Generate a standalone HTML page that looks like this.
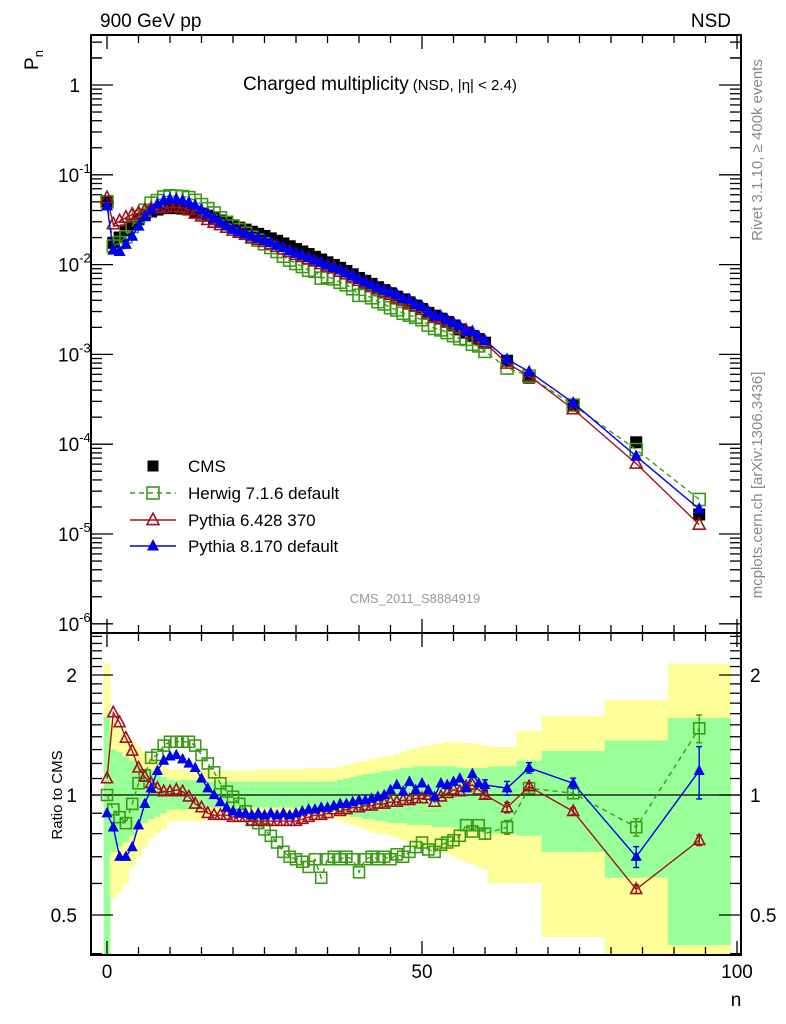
<!DOCTYPE html>
<html><head><meta charset="utf-8"><style>
body{margin:0;background:#fff;}
svg{display:block;font-family:"Liberation Sans",Arial,sans-serif;}
</style></head><body>
<svg id="chart" width="786" height="1024" viewBox="0 0 786 1024" xmlns="http://www.w3.org/2000/svg">
<g id="bands"></g>
<g id="grid"></g>
<g id="marks"></g>
<text x="100" y="27" font-size="19">900 GeV pp</text>
<text x="731" y="27" font-size="19" text-anchor="end">NSD</text>
<text x="243" y="90" font-size="19">Charged multiplicity<tspan font-size="15" dx="4">(NSD, |η| &lt; 2.4)</tspan></text>
<text transform="translate(38,60) rotate(-90)" font-size="19" text-anchor="middle">P<tspan font-size="13" dy="5">n</tspan></text>
<text transform="translate(62,795) rotate(-90)" font-size="15" text-anchor="middle">Ratio to CMS</text>
<text x="736" y="1006" font-size="19" text-anchor="middle">n</text>
<text transform="translate(762,150) rotate(-90)" font-size="15" fill="#888" text-anchor="middle">Rivet 3.1.10, ≥ 400k events</text>
<text transform="translate(762,485) rotate(-90)" font-size="15" fill="#888" text-anchor="middle">mcplots.cern.ch [arXiv:1306.3436]</text>
<text x="415" y="603" font-size="13" fill="#999" text-anchor="middle">CMS_2011_S8884919</text>
<g id="legend"></g>
</svg>
<script>
const nVals=[0,1,2,3,4,5,6,7,8,9,10,11,12,13,14,15,16,17,18,19,20,21,22,23,24,25,26,27,28,29,30,31,32,33,34,35,36,37,38,39,40,41,42,43,44,45,46,47,48,49,50,51,52,53,54,55,56,57,58,59,60,63.5,67,74,84,94];
const binLo=[-0.5,0.5,1.5,2.5,3.5,4.5,5.5,6.5,7.5,8.5,9.5,10.5,11.5,12.5,13.5,14.5,15.5,16.5,17.5,18.5,19.5,20.5,21.5,22.5,23.5,24.5,25.5,26.5,27.5,28.5,29.5,30.5,31.5,32.5,33.5,34.5,35.5,36.5,37.5,38.5,39.5,40.5,41.5,42.5,43.5,44.5,45.5,46.5,47.5,48.5,49.5,50.5,51.5,52.5,53.5,54.5,55.5,56.5,57.5,58.5,59.5,60.5,65,69,79,89];
const binHi=[0.5,1.5,2.5,3.5,4.5,5.5,6.5,7.5,8.5,9.5,10.5,11.5,12.5,13.5,14.5,15.5,16.5,17.5,18.5,19.5,20.5,21.5,22.5,23.5,24.5,25.5,26.5,27.5,28.5,29.5,30.5,31.5,32.5,33.5,34.5,35.5,36.5,37.5,38.5,39.5,40.5,41.5,42.5,43.5,44.5,45.5,46.5,47.5,48.5,49.5,50.5,51.5,52.5,53.5,54.5,55.5,56.5,57.5,58.5,59.5,60.5,65,69,79,89,99];
const cmsP=[0.050,0.0175,0.020,0.024,0.028,0.032,0.036,0.039,0.041,0.0425,0.043,0.0425,0.042,0.041,0.039,0.037,0.035,0.033,0.031,0.029,0.0272,0.0258,0.0245,0.0232,0.0220,0.0208,0.0196,0.0184,0.0172,0.0160,0.0149,0.0140,0.0131,0.0122,0.0114,0.0106,0.0099,0.0092,0.0085,0.0078,0.0071,0.0066,0.0061,0.0056,0.0052,0.0048,0.0044,0.0041,0.0038,0.0035,0.0032,0.0029,0.0027,0.0025,0.0023,0.0021,0.0019,0.00175,0.0016,0.00148,0.00135,0.00085,0.00055,0.00027,0.000105,0.0000165];
const herwigR=[1.0,0.92,0.88,0.85,0.95,1.07,1.12,1.24,1.26,1.33,1.36,1.36,1.36,1.36,1.33,1.26,1.2,1.14,1.07,1.02,0.99,0.95,0.91,0.87,0.85,0.82,0.79,0.76,0.72,0.70,0.69,0.68,0.66,0.69,0.62,0.69,0.70,0.69,0.70,0.69,0.64,0.69,0.70,0.69,0.70,0.69,0.71,0.70,0.72,0.74,0.76,0.73,0.72,0.75,0.76,0.77,0.79,0.84,0.81,0.84,0.80,0.83,1.04,1.01,0.83,1.47];
const pythia6R=[1.10,1.61,1.52,1.39,1.29,1.17,1.11,1.07,1.04,1.02,1.02,1.03,1.02,0.99,0.95,0.93,0.90,0.89,0.89,0.89,0.88,0.88,0.88,0.86,0.86,0.86,0.86,0.86,0.86,0.86,0.86,0.87,0.88,0.89,0.89,0.90,0.92,0.91,0.92,0.93,0.93,0.94,0.94,0.95,0.95,0.96,0.96,0.97,0.97,0.98,0.98,1.0,0.96,0.99,1.01,1.03,1.02,1.05,1.06,1.03,1.0,0.93,1.05,0.91,0.58,0.77];
const pythia8R=[0.90,0.83,0.70,0.70,0.74,0.84,0.95,1.04,1.15,1.22,1.25,1.26,1.23,1.20,1.17,1.10,1.04,1.0,0.96,0.93,0.91,0.90,0.90,0.89,0.90,0.89,0.90,0.89,0.90,0.89,0.90,0.91,0.92,0.92,0.93,0.93,0.94,0.95,0.95,0.96,0.97,0.97,0.98,0.99,1.0,1.03,1.06,1.02,1.08,1.03,1.07,1.03,0.99,1.07,1.06,1.08,1.10,1.04,1.13,1.07,1.06,1.04,1.17,1.07,0.70,1.15];
const herwigErrTail=[0.03,0.04,0.03,0.03,0.05,0.08];
const pythia6ErrTail=[0.02,0.03,0.02,0.02,0.025,0.03];
const pythia8ErrTail=[0.03,0.04,0.03,0.03,0.06,0.15];
const greenHi=[1.57,1.30,1.28,1.25,1.22,1.20,1.17,1.15,1.13,1.11,1.09,1.09,1.09,1.09,1.09,1.09,1.08,1.08,1.08,1.08,1.08,1.08,1.08,1.08,1.08,1.08,1.08,1.08,1.08,1.08,1.08,1.08,1.08,1.08,1.08,1.08,1.08,1.09,1.10,1.11,1.12,1.13,1.13,1.14,1.15,1.15,1.16,1.17,1.17,1.18,1.18,1.18,1.18,1.18,1.18,1.18,1.17,1.17,1.17,1.17,1.17,1.18,1.22,1.29,1.37,1.56];
const greenLo=[0.3,0.72,0.74,0.76,0.79,0.82,0.85,0.87,0.88,0.90,0.92,0.92,0.92,0.92,0.92,0.92,0.93,0.93,0.93,0.93,0.93,0.93,0.93,0.93,0.93,0.93,0.93,0.93,0.93,0.93,0.93,0.93,0.93,0.93,0.92,0.92,0.91,0.90,0.89,0.88,0.88,0.87,0.87,0.86,0.86,0.85,0.85,0.85,0.84,0.84,0.84,0.84,0.83,0.83,0.83,0.83,0.82,0.82,0.81,0.81,0.80,0.80,0.79,0.72,0.62,0.42];
const yellowHi=[2.14,1.55,1.48,1.42,1.37,1.32,1.28,1.25,1.22,1.20,1.16,1.16,1.16,1.16,1.16,1.16,1.15,1.15,1.15,1.15,1.15,1.15,1.15,1.15,1.16,1.16,1.16,1.16,1.16,1.16,1.16,1.16,1.17,1.17,1.17,1.17,1.17,1.18,1.19,1.20,1.21,1.22,1.23,1.24,1.25,1.25,1.27,1.28,1.30,1.31,1.32,1.33,1.34,1.35,1.36,1.36,1.36,1.35,1.35,1.34,1.33,1.32,1.45,1.58,1.73,2.13];
const yellowLo=[0.3,0.55,0.57,0.60,0.66,0.70,0.74,0.78,0.80,0.82,0.86,0.86,0.86,0.86,0.86,0.86,0.88,0.88,0.88,0.88,0.88,0.88,0.88,0.88,0.88,0.88,0.88,0.88,0.88,0.88,0.88,0.88,0.88,0.88,0.88,0.88,0.88,0.86,0.85,0.84,0.83,0.82,0.81,0.80,0.80,0.79,0.78,0.77,0.76,0.75,0.74,0.73,0.72,0.72,0.71,0.70,0.69,0.68,0.67,0.66,0.65,0.60,0.60,0.44,0.3,0.3];
const yTickLabels=[["1",0],["10","-1"],["10","-2"],["10","-3"],["10","-4"],["10","-5"],["10","-6"]];
const rTickVals=[0.5,1,2];
const xTickVals=[0,50,100];

const NS="http://www.w3.org/2000/svg";
const X0=107,XS=6.3,L=91,R=741,T=35,MB=633,RB=955;
const xs=n=>X0+XS*n;
const ysP=p=>85-89.8*Math.log10(p);
const ysR=r=>795-120*Math.log2(r);
function el(tag,attrs,parent){const e=document.createElementNS(NS,tag);for(const k in attrs)e.setAttribute(k,attrs[k]);parent.appendChild(e);return e;}
const bands=document.getElementById('bands'),grid=document.getElementById('grid'),marks=document.getElementById('marks'),legend=document.getElementById('legend');
for(let i=0;i<nVals.length;i++){
  const x1=Math.max(xs(binLo[i]),L),x2=xs(binHi[i]);
  const yh=Math.max(ysR(yellowHi[i]),636),yl=Math.min(ysR(yellowLo[i]),RB);
  const b=el('rect',{x:x1,y:yh,width:x2-x1+0.3,height:yl-yh,fill:'#ffff99'},bands);
  
  
  const gh=Math.max(ysR(greenHi[i]),636),gl=Math.min(ysR(greenLo[i]),RB);
  const g=el('rect',{x:x1,y:gh,width:x2-x1+0.3,height:gl-gh,fill:'#99ff99'},bands);
  
  
}
const f1=el('rect',{x:L,y:T,width:R-L,height:MB-T,fill:'none',stroke:'#000','stroke-width':2},grid);


const f2=el('rect',{x:L,y:MB,width:R-L,height:RB-MB,fill:'none',stroke:'#000','stroke-width':2},grid);


el('line',{x1:L,x2:R,y1:ysR(1),y2:ysR(1),stroke:'#000','stroke-width':1.3},grid);
for(let n=0;n<=100;n+=5){
  const x=xs(n),len=(n%50===0)?14:8;
  [T,MB].forEach(y=>el('line',{x1:x,x2:x,y1:y,y2:y+len,stroke:'#000','stroke-width':1.3},grid));
  [MB,RB].forEach(y=>el('line',{x1:x,x2:x,y1:y,y2:y-len,stroke:'#000','stroke-width':1.3},grid));
}
xTickVals.forEach(v=>{const t=el('text',{x:xs(v),y:978,'font-size':19,'text-anchor':'middle'},grid);t.textContent=v;

});
for(let d=-6;d<=0;d++){
  for(let m=1;m<=9;m++){
    const p=m*Math.pow(10,d);const y=ysP(p);if(y<T||y>MB)continue;
    const len=m===1?22:11;
    el('line',{x1:L,x2:L+len,y1:y,y2:y,stroke:'#000','stroke-width':1.3},grid);
    el('line',{x1:R,x2:R-len,y1:y,y2:y,stroke:'#000','stroke-width':1.3},grid);
  }
}
{const y=ysP(2);el('line',{x1:L,x2:L+11,y1:y,y2:y,stroke:'#000','stroke-width':1.3},grid);el('line',{x1:R,x2:R-11,y1:y,y2:y,stroke:'#000','stroke-width':1.3},grid);}
yTickLabels.forEach((lab,i)=>{
  const y=ysP(Math.pow(10,-i))+7;
  const t=el('text',{x:lab[1]===0?80:58,y:y,'font-size':19,'text-anchor':lab[1]===0?'end':'start'},grid);
  
  
  if(lab[1]===0)t.textContent=lab[0];
  else{t.textContent=lab[0];const s=el('tspan',{'font-size':13,dy:-9},t);s.textContent=lab[1];}
});
[0.4,0.5,0.6,0.7,0.8,0.9,1,1.1,1.2,1.3,1.4,1.5,1.6,1.7,1.8,1.9,2,2.1,2.2,2.3,2.4,2.5].forEach(r=>{
  const y=ysR(r);if(y<MB||y>RB)return;
  const len=rTickVals.includes(r)?22:11;
  el('line',{x1:L,x2:L+len,y1:y,y2:y,stroke:'#000','stroke-width':1.3},grid);
  el('line',{x1:R,x2:R-len,y1:y,y2:y,stroke:'#000','stroke-width':1.3},grid);
});
rTickVals.forEach(r=>{
  const t=el('text',{x:77,y:ysR(r)+7,'font-size':19,'text-anchor':'end'},grid);t.textContent=r;
  
  
  const t2=el('text',{x:750,y:ysR(r)+7,'font-size':19},grid);t2.textContent=r;
  
  
});
function marker(kind,x,y,s,parent){
  if(kind==='sq'){return el('rect',{x:x-s/2,y:y-s/2,width:s,height:s,fill:'none',stroke:'#3c9a16','stroke-width':1.6},parent);}
  if(kind==='cms'){return el('rect',{x:x-s/2,y:y-s/2,width:s,height:s,fill:'#000'},parent);}
  const h=s*0.95,pts=`${x},${y-h*0.6} ${x-s/2},${y+h*0.4} ${x+s/2},${y+h*0.4}`;
  if(kind==='tri')return el('polygon',{points:pts,fill:'none',stroke:'#a3101c','stroke-width':1.6},parent);
  return el('polygon',{points:pts,fill:'#0000ee'},parent);
}
const series=[
 {name:'herwig',r:herwigR,err:herwigErrTail,kind:'sq',color:'#3c9a16',dash:'5,4'},
 {name:'pythia6',r:pythia6R,err:pythia6ErrTail,kind:'tri',color:'#a3101c',dash:''},
 {name:'pythia8',r:pythia8R,err:pythia8ErrTail,kind:'ftri',color:'#0000ee',dash:''}];
const cg=el('g',{},marks);


cmsP.forEach((p,i)=>{const m=marker('cms',xs(nVals[i]),ysP(p),12,cg);

});
const tailStart=nVals.length-6;
series.forEach(s=>{
  const g=el('g',{},marks);
  
  
  const mp=nVals.map((n,i)=>xs(n)+','+ysP(cmsP[i]*s.r[i])).join(' ');
  el('polyline',{points:mp,fill:'none',stroke:s.color,'stroke-width':1.4,'stroke-dasharray':s.dash},g);
  nVals.forEach((n,i)=>{const m=marker(s.kind,xs(n),ysP(cmsP[i]*s.r[i]),12,g);
  
  });
  const rp=nVals.map((n,i)=>xs(n)+','+ysR(s.r[i])).join(' ');
  el('polyline',{points:rp,fill:'none',stroke:s.color,'stroke-width':1.4,'stroke-dasharray':s.dash},g);
  nVals.forEach((n,i)=>{
    const y=ysR(s.r[i]);
    if(i>=tailStart){const e=s.err[i-tailStart];const y1=ysR(s.r[i]*(1+e)),y2=ysR(s.r[i]*(1-e));
      el('line',{x1:xs(n),x2:xs(n),y1:y1,y2:y2,stroke:s.color,'stroke-width':1.4},g);
      el('line',{x1:xs(n)-3,x2:xs(n)+3,y1:y1,y2:y1,stroke:s.color,'stroke-width':1.4},g);
      el('line',{x1:xs(n)-3,x2:xs(n)+3,y1:y2,y2:y2,stroke:s.color,'stroke-width':1.4},g);}
    const m=marker(s.kind,xs(n),y,11,g);
    
    
  });
});
const leg=[['CMS','cms','#000',null,''],['Herwig 7.1.6 default','sq','#3c9a16',1,'5,4'],['Pythia 6.428 370','tri','#a3101c',1,''],['Pythia 8.170 default','ftri','#0000ee',1,'']];
const lys=[466,493,520,546];
leg.forEach((l,i)=>{
  const g=el('g',{},legend);
  
  
  if(l[3])el('line',{x1:130,x2:176,y1:lys[i],y2:lys[i],stroke:l[2],'stroke-width':1.4,'stroke-dasharray':l[4]},g);
  marker(l[1],153,lys[i],l[1]==='cms'?11:12,g);
  const t=el('text',{x:188,y:lys[i]+6,'font-size':17},g);t.textContent=l[0];
});
</script>
</body></html>
